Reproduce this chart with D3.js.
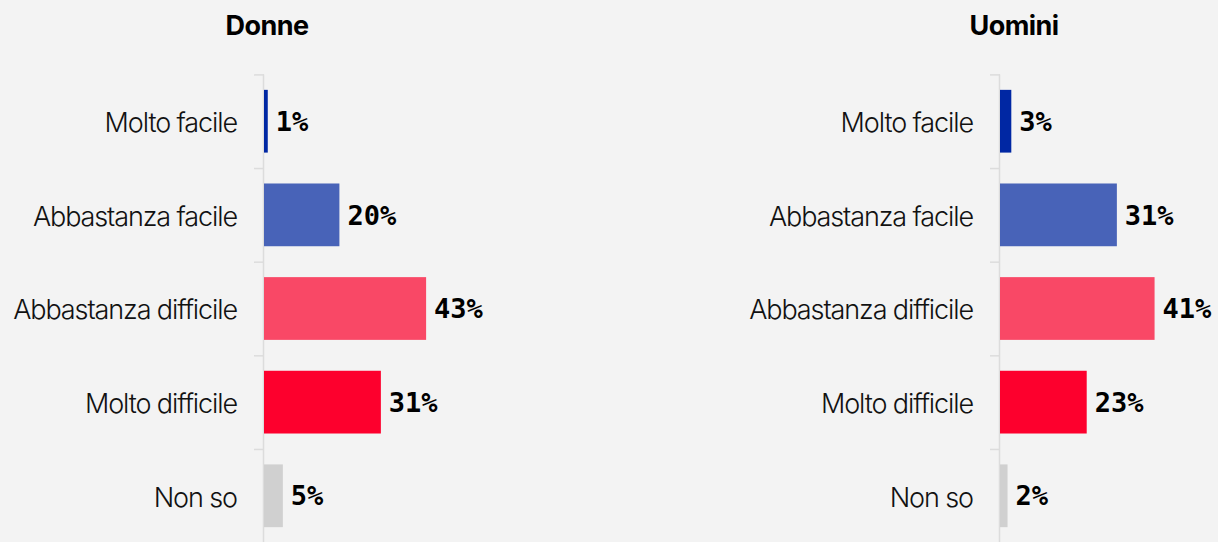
<!DOCTYPE html>
<html>
<head>
<meta charset="utf-8">
<script src="https://cdn.jsdelivr.net/npm/d3@7"></script>
<style>
  html, body { margin: 0; padding: 0; background: #f3f3f3; }
  svg { display: block; }
  .cat { font-family: Inter, "Noto Sans", sans-serif; font-weight: 300; font-size: 27px; letter-spacing: -1.1px; fill: #111; }
  .val { font-family: "DejaVu Sans Mono", monospace; font-weight: bold; font-size: 27px; fill: #000; }
  .title { font-family: Inter, "Noto Sans", sans-serif; font-weight: 700; font-size: 27px; letter-spacing: -0.6px; fill: #000; }
</style>
</head>
<body>
<div class="chart"></div>
<script>
// categories and values
const categories = ["Molto facile", "Abbastanza facile", "Abbastanza difficile", "Molto difficile", "Non so"];
const donne = [1, 20, 43, 31, 5];
const uomini = [3, 31, 41, 23, 2];
const panelTitles = ["Donne", "Uomini"];
const colors = ["#0027a3", "#4863b8", "#f94866", "#fd002d", "#d0d0d0"];

const width = 1218, height = 542;

const svg = d3.select(".chart")
    .append("svg")
    .attr("width", width)
    .attr("height", height);

// same scale for both panels
const xScale = d3.scaleLinear().domain([0, 100]).range([0, 377]);

const yScale = d3.scaleBand()
    .domain(categories)
    .range([73, 544])
    .paddingInner(0.33)
    .paddingOuter(0.18);

const panels = [
    { title: panelTitles[0], values: donne, axisX: 264, titleX: 267 },
    { title: panelTitles[1], values: uomini, axisX: 1000, titleX: 1014 }
];

panels.forEach(p => {
    const g = svg.append("g").attr("transform", "translate(" + p.axisX + ",0)");

    // title
    svg.append("text")
        .attr("class", "title")
        .attr("x", p.titleX)
        .attr("y", 35)
        .attr("text-anchor", "middle")
        .text(p.title);

    // axis line and ticks at band boundaries
    const step = yScale.step();
    const half = step * yScale.paddingInner() / 2;
    g.append("line")
        .attr("x1", -0.5).attr("x2", -0.5)
        .attr("y1", yScale(categories[0]) - half)
        .attr("y2", height)
        .attr("stroke", "#dcdcdc")
        .attr("stroke-width", 1.5);

    categories.forEach(c => {
        g.append("line")
            .attr("x1", -10).attr("x2", 0)
            .attr("y1", yScale(c) - half + 0.5)
            .attr("y2", yScale(c) - half + 0.5)
            .attr("stroke", "#dcdcdc")
            .attr("stroke-width", 1.5);
    });

    // bars, labels, values
    categories.forEach((c, i) => {
        const v = p.values[i];
        const yMid = yScale(c) + yScale.bandwidth() / 2;

        g.append("rect")
            .attr("x", 0)
            .attr("y", yScale(c))
            .attr("width", Math.max(xScale(v), 3))
            .attr("height", yScale.bandwidth())
            .attr("fill", colors[i]);

        g.append("text")
            .attr("class", "cat")
            .attr("x", -27)
            .attr("y", yMid)
            .attr("dy", "0.4em")
            .attr("text-anchor", "end")
            .text(c);

        g.append("text")
            .attr("class", "val")
            .attr("x", Math.max(xScale(v), 3) + 8)
            .attr("y", yMid)
            .attr("dy", "0.36em")
            .attr("text-anchor", "start")
            .text(v + "%");
    });
});
</script>
</body>
</html>
